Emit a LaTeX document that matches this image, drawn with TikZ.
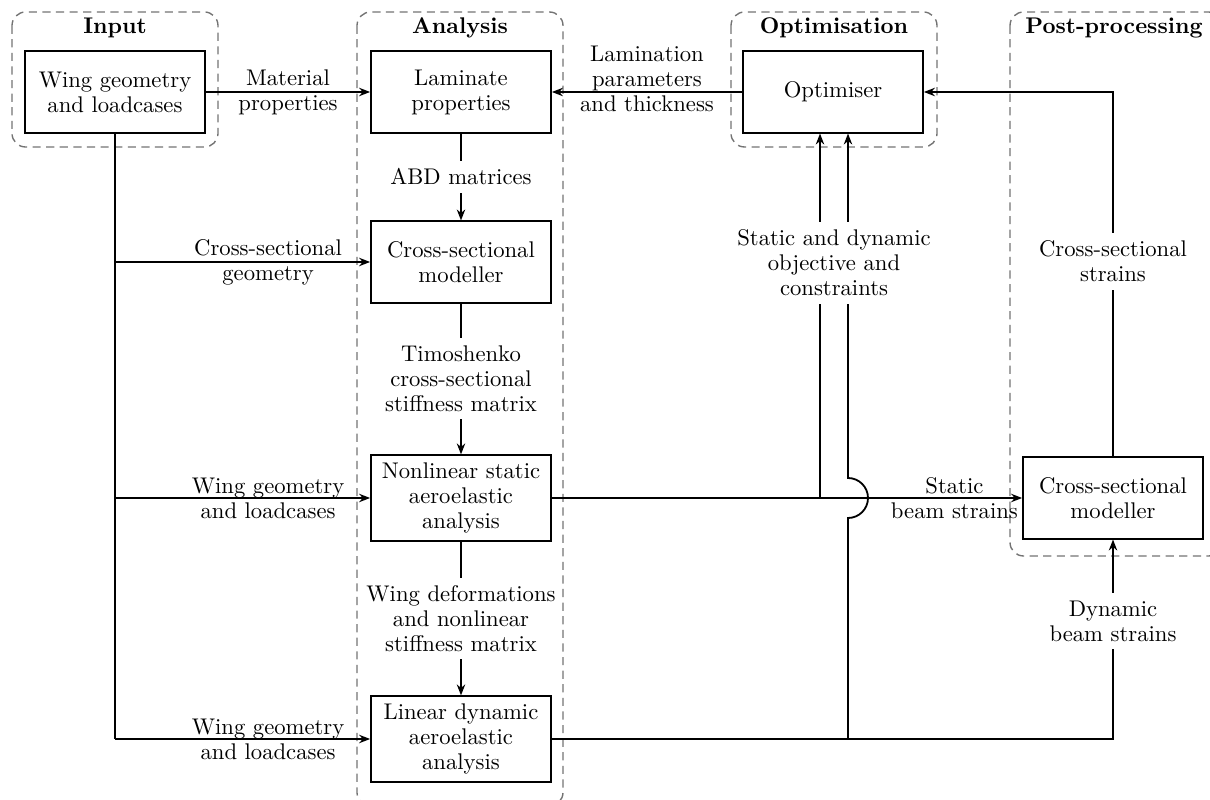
\documentclass[tikz,border=0pt]{standalone}
\usetikzlibrary{arrows.meta}
\begin{document}
\begin{tikzpicture}[x=0.0155cm, y=-0.0155cm,
    font=\fontsize{10}{11}\selectfont,
    block/.style={draw, thick, align=center, minimum width=2.79cm, minimum height=1.26cm},
    group/.style={draw=black!55, semithick, dash pattern=on 3.6pt off 2.4pt, rounded corners=6pt},
    title/.style={font=\fontsize{10}{11}\selectfont\bfseries},
    lbl/.style={align=center},
    flbl/.style={align=center, fill=white, inner xsep=1pt},
    line/.style={thick},
    arr/.style={thick, -{Stealth[length=1.7mm, width=1.3mm]}}]
  \useasboundingbox (0,0) rectangle (1210,800);
  % groups
  \draw[group] (12,12) rectangle (218,147);
  \draw[group] (357,12) rectangle (563,806);
  \draw[group] (731,12) rectangle (937,147);
  \draw[group] (1010,12) rectangle (1222,556);
  \node[title] (tInp) at (115,28) {Input};
  \node[title] (tAna) at (460,28) {Analysis};
  \node[title] (tOpt) at (834,28) {Optimisation};
  \node[title] (tPost) at (1114,28) {Post-processing};
  % blocks
  \node[block] (inp) at (115,92) {Wing geometry\\and loadcases};
  \node[block] (lam) at (461,92) {Laminate\\properties};
  \node[block] (csm) at (461,262) {Cross-sectional\\modeller};
  \node[block] (nls) at (461,498) {Nonlinear static\\aeroelastic\\analysis};
  \node[block] (lda) at (461,739) {Linear dynamic\\aeroelastic\\analysis};
  \node[block] (opt) at (833,92) {Optimiser};
  \node[block] (pcsm) at (1113,498) {Cross-sectional\\modeller};
  % analysis chain
  \draw[arr] (inp) -- node[lbl] {Material\\properties} (lam);
  \draw[arr] (opt) -- node[lbl, yshift=0.2cm] {Lamination\\parameters\\and thickness} (lam);
  \draw[arr] (lam) -- node[flbl] {ABD matrices} (csm);
  \draw[arr] (csm) -- node[flbl] {Timoshenko\\cross-sectional\\stiffness matrix} (nls);
  \draw[arr] (nls) -- node[flbl] {Wing deformations\\and nonlinear\\stiffness matrix} (lda);
  % input trunk
  \draw[line] (inp) -- (inp.south |- lda.west);
  \draw[arr] (inp.south |- csm.west) -- node[lbl, pos=0.6] {Cross-sectional\\geometry} (csm);
  \draw[arr] (inp.south |- nls.west) -- node[lbl, pos=0.6] {Wing geometry\\and loadcases} (nls);
  \draw[arr] (inp.south |- lda.west) -- node[lbl, pos=0.6] {Wing geometry\\and loadcases} (lda);
  % static and dynamic outputs
  \coordinate (sj) at (820,498);
  \coordinate (dj) at (848,739);
  \coordinate (hop) at (848,518);
  \draw[arr] (nls) -- node[lbl, pos=0.856] {Static\\beam strains} (pcsm);
  \draw[arr] (sj) -- (sj |- opt.south);
  \draw[arr] (lda) -- (lda.east -| pcsm) -- node[flbl, pos=0.59] {Dynamic\\beam strains} (pcsm);
  \draw[arr] (dj) -- (hop) arc (-90:90:0.31cm) -- (dj |- opt.south);
  \node[flbl] (obj) at (834,263) {Static and dynamic\\objective and\\constraints};
  % post-processing feedback
  \draw[arr] (pcsm) -- node[flbl, pos=0.535] {Cross-sectional\\strains} (pcsm.north |- opt.east) -- (opt);
\end{tikzpicture}
\end{document}
